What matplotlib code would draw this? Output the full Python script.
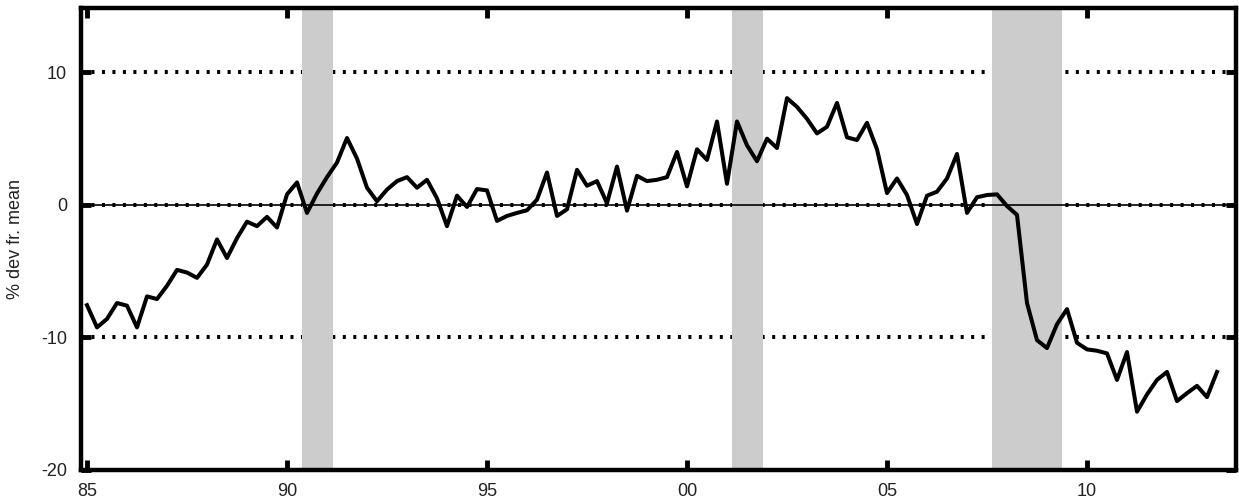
import numpy as np
import matplotlib
matplotlib.use('Agg')
import matplotlib.pyplot as plt

# quarterly series, 1985Q1 .. 2013Q2, % deviation from mean
start_year = 1985
values = [
    -7.56, -9.24, -8.6, -7.4, -7.6, -9.24, -6.9, -7.1, -6.1, -4.9,
    -5.1, -5.5, -4.5, -2.6, -4.0, -2.5, -1.26, -1.6, -0.9, -1.7,
    0.8, 1.7, -0.6, 0.86, 2.1, 3.2, 5.05, 3.5, 1.3, 0.28,
    1.16, 1.8, 2.1, 1.3, 1.9, 0.5, -1.6, 0.7, -0.15,
    1.2, 1.1, -1.2, -0.83, -0.6, -0.4, 0.4, 2.45, -0.83, -0.33,
    2.65, 1.45, 1.8, 0.13, 2.9, -0.43, 2.2, 1.8, 1.9,
    2.1, 4.0, 1.4, 4.2, 3.4, 6.3, 1.6, 6.3, 4.5, 3.3,
    5.0, 4.3, 8.06, 7.4, 6.5, 5.4, 5.9, 7.7, 5.1,
    4.9, 6.2, 4.2, 0.9, 2.0, 0.75, -1.44, 0.7, 1.0, 2.0,
    3.85, -0.6, 0.58, 0.75, 0.8, -0.08, -0.75, -7.4, -10.2,
    -10.8, -9.0, -7.86, -10.4, -10.9, -11.0, -11.2, -13.2, -11.1,
    -15.6, -14.3, -13.2, -12.6, -14.8, -14.2, -13.65, -14.5, -12.6,
]

# recession bands (start, end) in years
recessions = [(1990.38, 1991.16), (2001.13, 2001.89), (2007.63, 2009.38)]

xtick_years = [1985, 1990, 1995, 2000, 2005, 2010]
xtick_labels = ['85', '90', '95', '00', '05', '10']
ytick_vals = [-20, -10, 0, 10]
ylabel = '% dev fr. mean'

dates = start_year + np.arange(len(values)) / 4.0

plt.rcParams['font.family'] = ['Liberation Sans', 'DejaVu Sans']
txt_color = '#222222'

fig = plt.figure(figsize=(12.39, 5.04), dpi=100)
ax = fig.add_axes([81 / 1239, 34 / 504, 1155 / 1239, 462.5 / 504])

ax.set_xlim(1984.85, 2013.725)
ax.set_ylim(-20, 14.9)

# dotted grid lines at +-10 and 0 (under the shading)
for yv in [-10, 0, 10]:
    ax.axhline(yv, color='black', lw=2.9, linestyle=(0, (0.75, 1.85)),
               dash_capstyle='butt', zorder=1)

for a, b in recessions:
    ax.axvspan(a, b, color='#cccccc', lw=0, zorder=2)

ax.axhline(0, color='black', lw=1.2, zorder=3)
ax.plot(dates, values, color='black', lw=2.9, solid_joinstyle='round', zorder=4)

ax.set_xticks(xtick_years)
ax.set_xticklabels(xtick_labels)
ax.set_yticks(ytick_vals)
ax.set_yticklabels([str(v) for v in ytick_vals])

ax.tick_params(axis='both', direction='in', length=7, width=3.5,
               labelsize=13, labelcolor=txt_color)
ax.tick_params(axis='x', top=True, pad=9)
ax.tick_params(axis='y', right=True, pad=10)

for sp in ax.spines.values():
    sp.set_linewidth(3.2)

ax.set_ylabel(ylabel, fontsize=13, color=txt_color)
ax.yaxis.set_label_coords(-0.049, 0.5)

fig.savefig('out.png', dpi=100)
